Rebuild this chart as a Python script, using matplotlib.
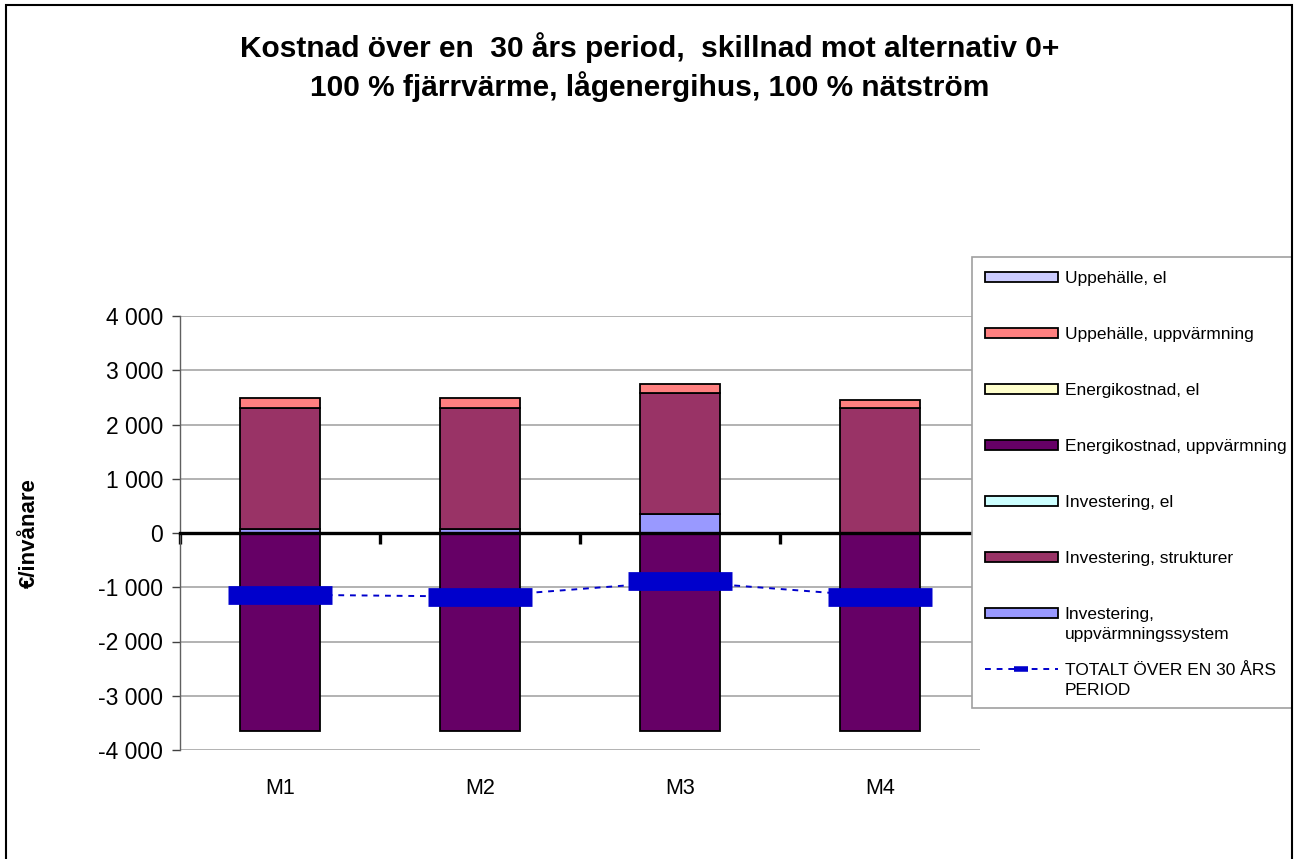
import matplotlib
matplotlib.use("Agg")
import matplotlib.pyplot as plt
from matplotlib.patches import Patch, Rectangle
from matplotlib.lines import Line2D
from matplotlib.ticker import FuncFormatter, FixedLocator
import numpy as np

plt.rcParams['font.family'] = ['Liberation Sans', 'DejaVu Sans']

categories = ['M1', 'M2', 'M3', 'M4']

inv_uppv_system = [70, 70, 350, 0]
inv_strukturer = [2243, 2243, 2234, 2313]
inv_el = [0, 0, 0, 0]
energi_uppv = [-3655, -3655, -3655, -3655]
energi_el = [0, 0, 0, 0]
uppeh_uppv = [184, 184, 160, 142]
uppeh_el = [0, 0, 0, 0]
totalt = [-1136, -1173, -891, -1173]

# (first legend line, continuation line)
series = [
    (('Investering,', 'uppvärmningssystem'), inv_uppv_system, '#9999FF'),
    (('Investering, strukturer', None), inv_strukturer, '#993366'),
    (('Investering, el', None), inv_el, '#CCFFFF'),
    (('Energikostnad, uppvärmning', None), energi_uppv, '#660066'),
    (('Energikostnad, el', None), energi_el, '#FFFFCC'),
    (('Uppehälle, uppvärmning', None), uppeh_uppv, '#FF8080'),
    (('Uppehälle, el', None), uppeh_el, '#CCCCFF'),
]
total_label = ('TOTALT ÖVER EN 30 ÅRS', 'PERIOD')

W, H = 1299, 859
LEG_FS = 12.5
fig = plt.figure(figsize=(W / 100, H / 100), dpi=100)
ax = fig.add_axes([180 / W, 1 - 750 / H, 800 / W, 434 / H])

x = np.arange(len(categories))
pos_base = np.zeros(len(categories))
neg_base = np.zeros(len(categories))
for name, vals, col in series:
    v = np.array(vals, dtype=float)
    bottoms = np.where(v >= 0, pos_base, neg_base)
    mask = v != 0
    ax.bar(x[mask], v[mask], width=0.4, bottom=bottoms[mask], color=col,
           edgecolor='black', linewidth=1.3, zorder=3)
    pos_base += np.where(v > 0, v, 0)
    neg_base += np.where(v < 0, v, 0)

ax.plot(x, totalt, color='#0000CC', linestyle=(0, (3, 3)), linewidth=1.4,
        marker='_', markersize=75, markeredgewidth=13.5,
        markeredgecolor='#0000CC', zorder=4)

ax.set_xlim(-0.5, 3.5)
ax.set_ylim(-4000, 4000)
ax.yaxis.set_major_locator(FixedLocator(np.arange(-4000, 4001, 1000)))
ax.yaxis.set_major_formatter(FuncFormatter(lambda v, p: f"{int(v):,}".replace(',', ' ')))
ax.tick_params(axis='y', direction='out', length=6, width=1, color='#404040',
               labelsize=16.5, pad=6)
ax.grid(axis='y', color='#A6A6A6', linewidth=1.2, zorder=0)
ax.set_axisbelow(True)

for s in ['top', 'right']:
    ax.spines[s].set_visible(False)
ax.spines['left'].set_color('#606060')
ax.spines['left'].set_linewidth(1)
ax.spines['bottom'].set_position(('data', 0))
ax.spines['bottom'].set_linewidth(2.4)
ax.spines['bottom'].set_zorder(5)
ax.set_xticks(np.arange(-0.5, 3.5, 1.0))
ax.tick_params(axis='x', direction='out', length=8, width=2.4, labelbottom=False)

sec = ax.secondary_xaxis(0)
sec.set_xticks(x)
sec.set_xticklabels(categories)
sec.tick_params(length=0, labelsize=15.5, pad=20)
sec.spines['bottom'].set_visible(False)

ax.set_ylabel('€/invånare', fontsize=16, fontweight='bold')
ax.yaxis.set_label_coords((40 - 180) / 800, 0.5)

fig.text(0.5, 1 - 48 / H, 'Kostnad över en  30 års period,  skillnad mot alternativ 0+',
         ha='center', va='center', fontsize=21.5, fontweight='bold')
fig.text(0.5, 1 - 87 / H, '100 % fjärrvärme, lågenergihus, 100 % nätström',
         ha='center', va='center', fontsize=21.5, fontweight='bold')

# Legend box (white, above the plot area) with evenly spaced entries;
# wrapped labels continue on a second line below the first.
fig.patches.append(Rectangle((972 / W, 1 - 708 / H), 320 / W, 451 / H,
                             transform=fig.transFigure, facecolor='white',
                             edgecolor='#A0A0A0', linewidth=1.2))

entries = [(n, c) for n, v, c in reversed(series)]
handles = [Patch(facecolor=c, edgecolor='black', linewidth=1.3, label=n[0])
           for n, c in entries]
handles.append(Line2D([], [], color='#0000CC', linestyle=(0, (3, 3)), linewidth=1.4,
                      marker='_', markersize=10, markeredgewidth=4,
                      label=total_label[0]))
continuations = [n[1] for n, c in entries] + [total_label[1]]

leg = fig.legend(handles=handles, loc='upper left',
                 bbox_to_anchor=(985 / W, 1 - 271 / H), fontsize=LEG_FS,
                 frameon=False, handlelength=4.2, handleheight=0.5,
                 labelspacing=2.36, borderpad=0, handletextpad=0.4,
                 borderaxespad=0)

fig.canvas.draw()
for txt, extra in zip(leg.get_texts(), continuations):
    if extra is None:
        continue
    bb = txt.get_window_extent()
    fig.text(bb.x0 / W, (bb.y0 + bb.y1) / 2 / H - 20 / H, extra,
             ha='left', va='center', fontsize=LEG_FS)

fig.patches.append(Rectangle((6 / W, -0.1), (1292 - 6) / W, 1.1 - 5 / H,
                             transform=fig.transFigure, fill=False,
                             edgecolor='black', linewidth=1.5))

fig.savefig('out.png', dpi=100)
